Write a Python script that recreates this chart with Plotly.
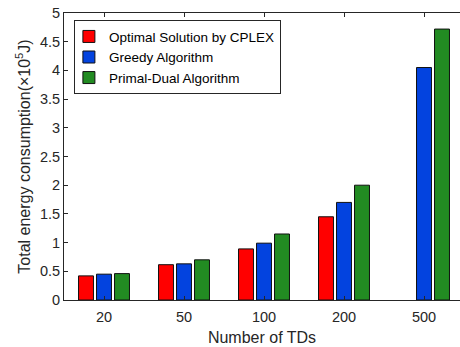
import plotly.graph_objects as go

# Number of terminal devices (TDs) on the x axis
categories = ["20", "50", "100", "200", "500"]

# Total energy consumption in units of 10^5 J
cplex = [0.42, 0.615, 0.89, 1.45, None]
greedy = [0.45, 0.63, 0.99, 1.70, 4.05]
primal_dual = [0.46, 0.70, 1.15, 2.00, 4.72]

series_names = ["Optimal Solution by CPLEX", "Greedy Algorithm", "Primal-Dual Algorithm"]
series_values = [cplex, greedy, primal_dual]
series_colors = ["#FF0000", "#0343DF", "#228B22"]

y_ticks = [0, 0.5, 1, 1.5, 2, 2.5, 3, 3.5, 4, 4.5, 5]
y_tick_text = ["0", "0.5", "1", "1.5", "2", "2.5", "3", "3.5", "4", "4.5", "5"]

FONT = "Liberation Sans, Arial, Helvetica, sans-serif"
INK = "#262626"

fig = go.Figure()
for name, vals, color in zip(series_names, series_values, series_colors):
    fig.add_trace(go.Bar(
        x=categories, y=vals, name=name,
        marker=dict(color=color, line=dict(color="#111111", width=1)),
    ))

fig.update_layout(
    width=460, height=347,
    margin=dict(l=64, r=0, t=13, b=47),
    paper_bgcolor="white", plot_bgcolor="white",
    barmode="group", bargap=0.325, bargroupgap=0.17,
    font=dict(family=FONT, color=INK),
    showlegend=True,
    legend=dict(
        x=0.025, y=0.975, xanchor="left", yanchor="top",
        bgcolor="white", bordercolor=INK, borderwidth=1,
        font=dict(size=13.5, color="black"),
        itemwidth=30, tracegroupgap=0, indentation=-6,
    ),
)

fig.update_xaxes(
    type="category", range=[-0.5, 4.45],
    showline=True, linecolor=INK, linewidth=1, mirror="ticks",
    ticks="inside", ticklen=4, tickcolor=INK,
    tickfont=dict(size=14.5, color=INK), ticklabelstandoff=4,
    showgrid=False, zeroline=False,
    title=dict(text="Number of TDs", font=dict(size=16, color=INK), standoff=7),
)
fig.update_yaxes(
    range=[0, 5], tickvals=y_ticks, ticktext=y_tick_text,
    showline=True, linecolor=INK, linewidth=1, mirror=False,
    ticks="inside", ticklen=4, tickcolor=INK,
    tickfont=dict(size=14.5, color=INK),
    showgrid=False, zeroline=False,
    title=dict(text="Total energy consumption(×10<sup>5</sup>J)",
               font=dict(size=16, color=INK), standoff=5),
)

fig.write_html("out.html")
